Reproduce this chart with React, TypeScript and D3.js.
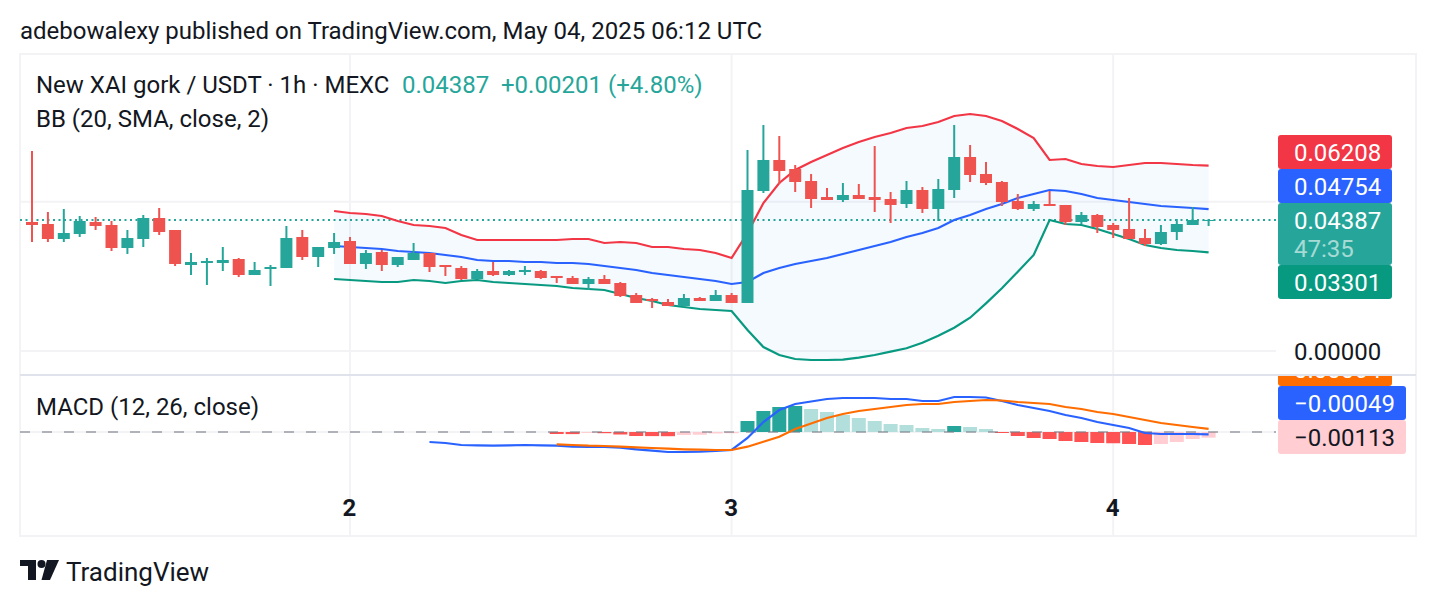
import React from "react";
import * as d3 from "d3";

// candles, one hour each: [open, high, low, close]
const candles: number[][] = [
  [0.0432, 0.06698, 0.0365, 0.0422], [0.04253, 0.04655, 0.0365, 0.03751], [0.03751, 0.04756, 0.0365, 0.03952],
  [0.03918, 0.04521, 0.03818, 0.04354], [0.0432, 0.04488, 0.04052, 0.04186], [0.0422, 0.04354, 0.03349, 0.03449],
  [0.03449, 0.04052, 0.03249, 0.03784], [0.03751, 0.04555, 0.03483, 0.04454], [0.04454, 0.04789, 0.03885, 0.03985],
  [0.04052, 0.04052, 0.02847, 0.02914], [0.0288, 0.03282, 0.02545, 0.02981], [0.02947, 0.03115, 0.0221, 0.03014],
  [0.02947, 0.03483, 0.02679, 0.03048], [0.03081, 0.03115, 0.02478, 0.02545], [0.02545, 0.02981, 0.02545, 0.02713],
  [0.02746, 0.0288, 0.02177, 0.02813], [0.0278, 0.04186, 0.0278, 0.03784], [0.03818, 0.04052, 0.03048, 0.03148],
  [0.03148, 0.03483, 0.02813, 0.03483], [0.03449, 0.03952, 0.03249, 0.0365], [0.03684, 0.03818, 0.02914, 0.02914],
  [0.02914, 0.03382, 0.02746, 0.03282], [0.03316, 0.03382, 0.02679, 0.0288], [0.0288, 0.03148, 0.02813, 0.03148],
  [0.03048, 0.03617, 0.03048, 0.03282], [0.03282, 0.03282, 0.02646, 0.02813], [0.0288, 0.0288, 0.02512, 0.02813],
  [0.0278, 0.02847, 0.02378, 0.02411], [0.02411, 0.02746, 0.02411, 0.02679], [0.02679, 0.02981, 0.02512, 0.02545],
  [0.02545, 0.02713, 0.02512, 0.02679], [0.02646, 0.02847, 0.02545, 0.02713], [0.02679, 0.02713, 0.02411, 0.02445],
  [0.02512, 0.02512, 0.02277, 0.02445], [0.02445, 0.02512, 0.02244, 0.02244], [0.02244, 0.02478, 0.02043, 0.02411],
  [0.02411, 0.02545, 0.02244, 0.02244], [0.02277, 0.02311, 0.01808, 0.01842], [0.01875, 0.01942, 0.01608, 0.01608],
  [0.01741, 0.01775, 0.0144, 0.01675], [0.01641, 0.01741, 0.01507, 0.01507], [0.01507, 0.01909, 0.01474, 0.01775],
  [0.01775, 0.01808, 0.01675, 0.01675], [0.01675, 0.02043, 0.01675, 0.01875], [0.01875, 0.01942, 0.01608, 0.01608],
  [0.01608, 0.06731, 0.01608, 0.05392], [0.05358, 0.07569, 0.05291, 0.06397], [0.06397, 0.072, 0.05593, 0.06028],
  [0.06095, 0.06229, 0.05325, 0.0566], [0.05693, 0.05928, 0.04789, 0.0509], [0.05157, 0.05459, 0.05057, 0.05057],
  [0.05057, 0.05626, 0.0499, 0.05224], [0.05224, 0.05593, 0.0509, 0.0509], [0.05157, 0.06865, 0.04655, 0.05057],
  [0.0509, 0.05325, 0.04287, 0.0489], [0.04923, 0.05693, 0.04789, 0.05392], [0.05392, 0.05492, 0.04622, 0.04756],
  [0.04756, 0.0576, 0.04354, 0.05425], [0.05392, 0.07569, 0.05124, 0.06497], [0.06497, 0.06899, 0.0566, 0.05894],
  [0.05928, 0.0633, 0.05559, 0.05626], [0.0566, 0.05693, 0.04856, 0.0499], [0.05024, 0.05258, 0.04722, 0.04756],
  [0.04756, 0.05024, 0.04689, 0.04923], [0.04923, 0.05358, 0.04856, 0.04856], [0.0489, 0.0489, 0.0422, 0.0432],
  [0.0432, 0.04655, 0.04253, 0.04555], [0.04555, 0.04588, 0.03952, 0.04153], [0.0422, 0.04287, 0.03784, 0.04052],
  [0.04086, 0.05124, 0.03751, 0.03751], [0.03784, 0.04086, 0.03516, 0.03583], [0.03583, 0.0422, 0.0355, 0.03985],
  [0.03985, 0.04421, 0.03717, 0.04253], [0.0422, 0.04823, 0.0422, 0.04387], [0.04354, 0.04421, 0.04186, 0.04387],
];

// bollinger bands start at bar 19
const bbStart = 19;
const bbUpper = [
  0.04689, 0.04622, 0.04588, 0.04521, 0.04354, 0.0422, 0.04186, 0.04119, 0.03885, 0.03717, 0.03717, 0.03717, 0.03717,
  0.03717, 0.03717, 0.03751, 0.03751, 0.03617, 0.0365, 0.03617, 0.03483, 0.03483, 0.03416, 0.03382, 0.03282, 0.03115,
  0.03952, 0.04957, 0.05626, 0.06062, 0.0633, 0.06564, 0.06798, 0.06999, 0.07167, 0.07301, 0.07468, 0.07535, 0.07669,
  0.0787, 0.07937, 0.0787, 0.07703, 0.07435, 0.07133, 0.06397, 0.0643, 0.06263, 0.06196, 0.06162, 0.06229, 0.06296,
  0.06296, 0.06263, 0.06229, 0.06208,
];
const bbBasis = [
  0.03516, 0.03483, 0.03449, 0.03416, 0.03349, 0.03316, 0.03282, 0.03215, 0.03148, 0.03048, 0.03014, 0.03014, 0.02981,
  0.02981, 0.02947, 0.02947, 0.02914, 0.02847, 0.0278, 0.02713, 0.02612, 0.02545, 0.02478, 0.02411, 0.02344, 0.02244,
  0.02311, 0.02612, 0.0278, 0.02914, 0.03014, 0.03115, 0.03249, 0.03382, 0.03516, 0.0365, 0.03818, 0.03952, 0.04119,
  0.04387, 0.04555, 0.04756, 0.04923, 0.05124, 0.05258, 0.05392, 0.05358, 0.05258, 0.05124, 0.05057, 0.0499, 0.04923,
  0.04856, 0.04823, 0.04789, 0.04754,
];
const bbLower = [
  0.02411, 0.02378, 0.02344, 0.02311, 0.02311, 0.02378, 0.02344, 0.02277, 0.02344, 0.02378, 0.02311, 0.02277, 0.02244,
  0.0221, 0.02177, 0.0211, 0.02076, 0.02043, 0.01909, 0.01775, 0.01675, 0.01541, 0.01474, 0.01407, 0.01373, 0.0134,
  0.00703, 0.00134, -0.00134, -0.00268, -0.00301, -0.00301, -0.00291, -0.00224, -0.00134, -0.00023, 0.0009, 0.00278,
  0.00512, 0.0078, 0.01115, 0.01597, 0.021, 0.02656, 0.03215, 0.04387, 0.04253, 0.0422, 0.04086, 0.03918, 0.03751,
  0.0355, 0.03449, 0.03382, 0.03349, 0.03301,
];

const macdStart = 25;
const macdLine = [
  -0.002, -0.0022, -0.0026, -0.00266, -0.00274, -0.00266, -0.0026, -0.00266, -0.00274, -0.00294, -0.003, -0.003,
  -0.00314, -0.00346, -0.00374, -0.004, -0.004, -0.00394, -0.0038, -0.0036, -0.0012, 0.002, 0.0044, 0.0056, 0.0061,
  0.0066, 0.0068, 0.0068, 0.0068, 0.0066, 0.0066, 0.0062, 0.0062, 0.007, 0.007, 0.0069, 0.0062, 0.0054, 0.0048, 0.0042,
  0.0034, 0.0028, 0.002, 0.0014, 0.0008, -0.0002, -0.0004, -0.0004, -0.0004, -0.00049,
];
const signalStart = 33;
const signalLine = [
  -0.00246, -0.0026, -0.00274, -0.0028, -0.00294, -0.00306, -0.0032, -0.00334, -0.00346, -0.00354, -0.0036, -0.0036,
  -0.00294, -0.00194, -0.00094, 0.0006, 0.0017, 0.0028, 0.0036, 0.0042, 0.0046, 0.005, 0.0054, 0.0056, 0.0056, 0.006,
  0.0062, 0.0064, 0.0063, 0.006, 0.0058, 0.0056, 0.005, 0.0046, 0.004, 0.0036, 0.003, 0.0024, 0.0018, 0.0014, 0.001,
  0.00064,
];
const histStart = 33;
const histogram = [
  -0.0004, -0.00042, -0.0002, -0.00024, -0.0005, -0.0008, -0.00082, -0.00084, -0.0006, -0.00055, -0.0003, -0.00025,
  0.0022, 0.0042, 0.005, 0.0052, 0.0046, 0.004, 0.0034, 0.0028, 0.0022, 0.0016, 0.0014, 0.0008, 0.0006, 0.0012, 0.001,
  0.0006, -0.0002, -0.0008, -0.0012, -0.0014, -0.0018, -0.002, -0.0022, -0.00225, -0.0024, -0.0026, -0.0024, -0.002,
  -0.0014, -0.00113,
];

const dayTicks = [20, 44, 68];
const dayLabels = ["2", "3", "4"];
const priceGrid = [0, 0.05];
const lastPrice = 0.04387;

const UP = "#26a69a";
const DOWN = "#ef5350";
const RED = "#f23645";
const BLUE = "#2962ff";
const GREEN = "#089981";
const GRID = "#f3f3f5";
const INK = "#131722";
const FONT = "Roboto, sans-serif";

const x = d3.scaleLinear().domain([0, 74]).range([32, 1208.6]);
const y = d3.scaleLinear().domain([0, 0.05]).range([351, 201.7]);
const ym = d3.scaleLinear().domain([0, 0.005]).range([432, 407]);

const bbLine = (start: number) =>
  d3
    .line<number>()
    .x((_, i) => x(i + start))
    .y((d) => y(d));

const macdPath = (start: number) =>
  d3
    .line<number>()
    .x((_, i) => x(i + start))
    .y((d) => ym(d));

const bandArea = d3
  .area<number>()
  .x((_, i) => x(i + bbStart))
  .y0((_, i) => y(bbLower[i]))
  .y1((d) => y(d));

const histColor = (v: number, prev: number) => {
  if (v >= 0) return v > prev ? UP : "#b2dfdb";
  return v < prev ? "#ff5252" : "#ffcdd2";
};

// price tag on the right axis
const Tag = ({ top, h, w = 114, fill }: { top: number; h: number; w?: number; fill: string }) => (
  <rect x={1278} y={top} width={w} height={h} fill={fill} rx={3} />
);

export default function App() {
  return (
    <svg
      width={1436}
      height={606}
      style={{ position: "absolute", left: 0, top: 0, background: "#fff" }}
      fontFamily={FONT}
      fontSize={24}
    >
      <defs>
        <clipPath id="macd-tags">
          <rect x={1270} y={376} width={160} height={100} />
        </clipPath>
      </defs>

      <text x={20} y={39} fill={INK}>
        adebowalexy published on TradingView.com, May 04, 2025 06:12 UTC
      </text>

      <rect x={20} y={54} width={1396} height={482} fill="none" stroke={GRID} strokeWidth={2} />

      {/* grid */}
      {priceGrid.map((p) => (
        <line key={p} x1={20} x2={1276} y1={y(p)} y2={y(p)} stroke={GRID} strokeWidth={2} />
      ))}
      {dayTicks.map((t) => (
        <line key={t} x1={x(t)} x2={x(t)} y1={54} y2={536} stroke={GRID} strokeWidth={2} />
      ))}
      <line x1={20} x2={1416} y1={375} y2={375} stroke="#e0e3eb" strokeWidth={2} />

      {/* bollinger */}
      <path d={bandArea(bbUpper) ?? ""} fill="#2196f3" fillOpacity={0.05} />
      <line
        x1={20}
        x2={1276}
        y1={y(lastPrice)}
        y2={y(lastPrice)}
        stroke={UP}
        strokeWidth={2}
        strokeDasharray="2 3.5"
      />
      <path d={bbLine(bbStart)(bbUpper) ?? ""} fill="none" stroke={RED} strokeWidth={2.2} />
      <path d={bbLine(bbStart)(bbBasis) ?? ""} fill="none" stroke={BLUE} strokeWidth={2.2} />
      <path d={bbLine(bbStart)(bbLower) ?? ""} fill="none" stroke={GREEN} strokeWidth={2.2} />

      {/* candles */}
      {candles.map(([o, h, l, c], i) => {
        const col = c >= o ? UP : DOWN;
        const top = Math.min(y(o), y(c));
        const bot = Math.max(y(o), y(c));
        return (
          <g key={i} fill={col}>
            <rect x={x(i) - 1} y={y(h)} width={2} height={y(l) - y(h)} />
            <rect x={x(i) - 6} y={top} width={12} height={Math.max(bot - top, 1)} />
          </g>
        );
      })}

      {/* macd */}
      <line x1={20} x2={1276} y1={ym(0)} y2={ym(0)} stroke={GRID} strokeWidth={2} />
      {histogram.map((v, i) => (
        <rect
          key={i}
          x={x(i + histStart) - 7}
          y={Math.min(ym(v), ym(0))}
          width={14}
          height={Math.abs(ym(v) - ym(0))}
          fill={histColor(v, i ? histogram[i - 1] : 0)}
        />
      ))}
      <line
        x1={20}
        x2={1276}
        y1={ym(0)}
        y2={ym(0)}
        stroke="#787b86"
        strokeOpacity={0.55}
        strokeWidth={2}
        strokeDasharray="10 12"
      />
      <path d={macdPath(macdStart)(macdLine) ?? ""} fill="none" stroke={BLUE} strokeWidth={2.2} />
      <path d={macdPath(signalStart)(signalLine) ?? ""} fill="none" stroke="#ff6d00" strokeWidth={2.2} />

      {/* legends */}
      <text x={36} y={93} fill={INK}>
        New XAI gork / USDT · 1h · MEXC
      </text>
      <g fill={UP}>
        <text x={402} y={93}>0.04387</text>
        <text x={501} y={93}>+0.00201</text>
        <text x={608} y={93}>(+4.80%)</text>
      </g>
      <text x={36} y={127} fill={INK}>
        BB (20, SMA, close, 2)
      </text>
      <text x={36} y={415} fill={INK}>
        MACD (12, 26, close)
      </text>

      {/* price axis */}
      <Tag top={135} h={34} fill={RED} />
      <Tag top={169} h={34} fill={BLUE} />
      <Tag top={203} h={62} fill="#26a69a" />
      <Tag top={265} h={34} fill={GREEN} />
      <g fill="#fff">
        <text x={1294} y={161}>0.06208</text>
        <text x={1294} y={195}>0.04754</text>
        <text x={1294} y={229}>0.04387</text>
        <text x={1294} y={257} fillOpacity={0.6}>47:35</text>
        <text x={1294} y={291}>0.03301</text>
      </g>
      <text x={1294} y={360} fill={INK}>
        0.00000
      </text>

      <g clipPath="url(#macd-tags)">
        <Tag top={352} h={34} fill="#ff6d00" />
        <text x={1294} y={378} fill="#fff">0.00064</text>
      </g>
      <Tag top={386} h={34} w={128} fill={BLUE} />
      <Tag top={420} h={34} w={128} fill="#ffcdd2" />
      <text x={1294} y={412} fill="#fff">−0.00049</text>
      <text x={1294} y={446} fill={INK}>−0.00113</text>

      {/* time axis */}
      {dayTicks.map((t, i) => (
        <text key={t} x={x(t) - 0.5} y={516} textAnchor="middle" fontWeight={700} fill={INK}>
          {dayLabels[i]}
        </text>
      ))}

      {/* logo */}
      <g fill={INK}>
        <path d="M20 560H36V580H28V566H20Z" />
        <circle cx={41.5} cy={564} r={4} />
        <path d="M47 560H59L50 580H41.5Z" />
        <text x={66} y={581} fontSize={26}>
          TradingView
        </text>
      </g>
    </svg>
  );
}
